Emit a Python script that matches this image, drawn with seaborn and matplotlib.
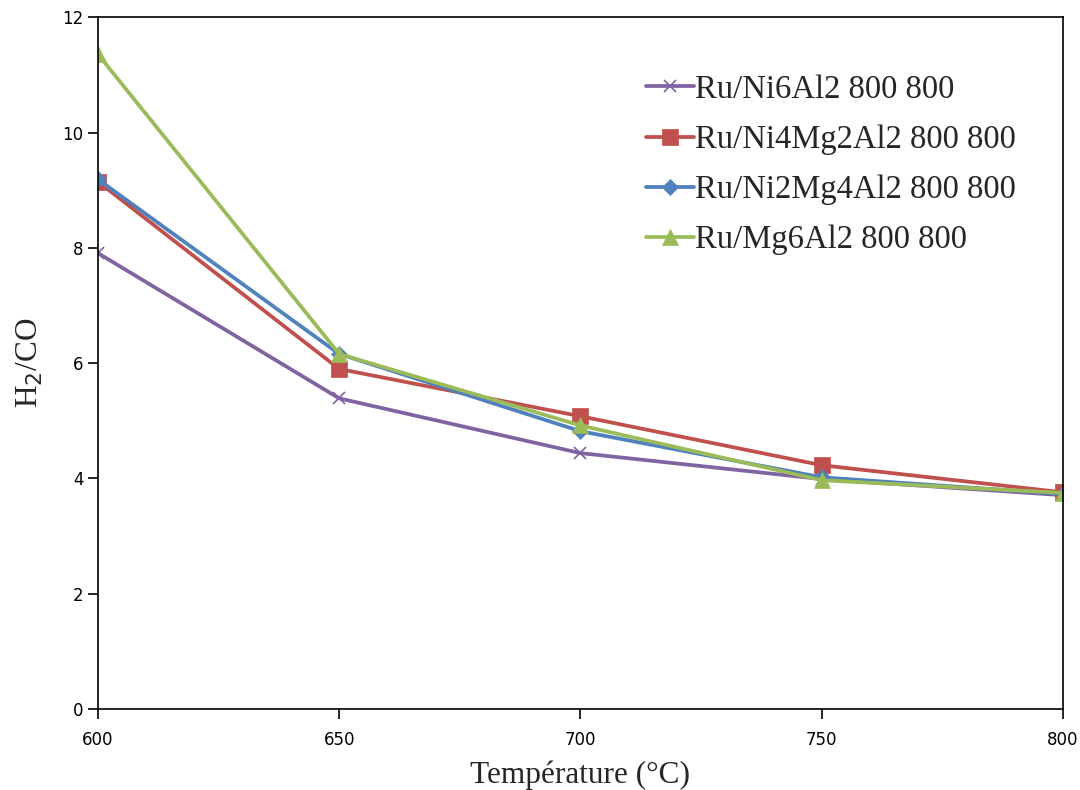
import matplotlib
matplotlib.use("Agg")
import matplotlib.pyplot as plt
import seaborn as sns
import pandas as pd

# data
temperature = [600, 650, 700, 750, 800]
ni6al2 = [7.91, 5.39, 4.44, 3.99, 3.71]
ni4mg2al2 = [9.15, 5.90, 5.08, 4.23, 3.76]
ni2mg4al2 = [9.19, 6.16, 4.82, 4.02, 3.73]
mg6al2 = [11.36, 6.16, 4.92, 3.97, 3.75]

labels = ["Ru/Ni6Al2 800 800", "Ru/Ni4Mg2Al2 800 800",
          "Ru/Ni2Mg4Al2 800 800", "Ru/Mg6Al2 800 800"]
colors = ["#8064A2", "#C0504D", "#4F81BD", "#9BBB59"]
markers = ["x", "s", "D", "^"]
msizes = [9, 11, 8, 11]

sns.set_style("white")
plt.rcParams["font.family"] = ["DejaVu Sans"]

fig = plt.figure(figsize=(10.8, 7.9), dpi=100)
ax = fig.add_axes([0.0907, 0.1025, 0.8935, 0.8755])

for vals, lab, col, mk, ms in zip([ni6al2, ni4mg2al2, ni2mg4al2, mg6al2],
                                  labels, colors, markers, msizes):
    df = pd.DataFrame({"T": temperature, "H2CO": vals})
    sns.lineplot(data=df, x="T", y="H2CO", ax=ax, color=col, linewidth=2.7,
                 marker=mk, markersize=ms, markeredgecolor=col,
                 markeredgewidth=1.2 if mk == "x" else 0.5, label=lab)

ax.set_xlim(600, 800)
ax.set_ylim(0, 12)
ax.set_xticks([600, 650, 700, 750, 800])
ax.set_yticks([0, 2, 4, 6, 8, 10, 12])
ax.tick_params(axis="both", direction="out", length=7, width=1.2,
               labelsize=12, colors="black", bottom=True, left=True)
ax.tick_params(axis="x", pad=9)
for s in ax.spines.values():
    s.set_color("black")
    s.set_linewidth(1.2)

serif = ["Liberation Serif", "DejaVu Serif"]
ax.set_xlabel("Température (°C)", fontsize=22.5, family=serif, labelpad=8)
ax.set_ylabel("H$_2$/CO", fontsize=22.5, family=serif, labelpad=12)

leg = ax.legend(loc="upper left", bbox_to_anchor=(0.538, 0.96), frameon=False,
                prop={"family": serif, "size": 23.5}, handlelength=1.45,
                handletextpad=0.05, labelspacing=0.6)

fig.savefig("out.png", dpi=100)
